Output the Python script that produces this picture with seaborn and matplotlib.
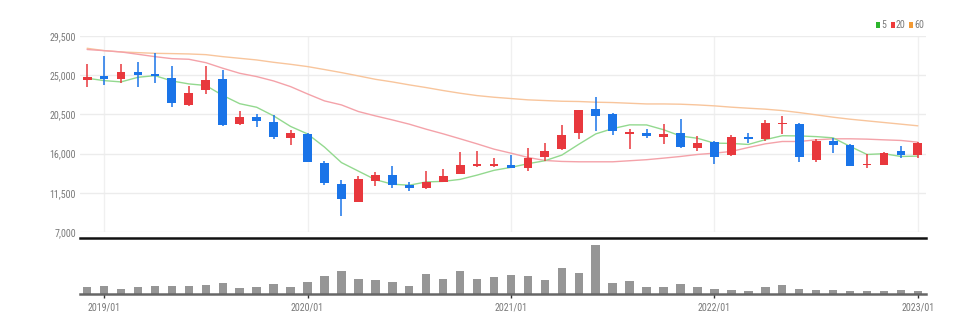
import matplotlib
matplotlib.use("Agg")
import matplotlib.pyplot as plt
from matplotlib import font_manager as fm
from matplotlib.patches import Rectangle
import numpy as np
import seaborn as sns

# Monthly candles, 2018/12 .. 2023/01
opens = [24450, 24950, 24550, 25350, 25100, 24650, 21600, 23300, 24550, 19400,
         20200, 19650, 17750, 18250, 14900, 12550, 10500, 12900, 13600, 12400,
         12000, 12750, 13700, 14550, 14550, 14700, 14350, 15650, 16500, 18350,
         21150, 20550, 18300, 18400, 17900, 18350, 16650, 17300, 15850, 17950,
         17700, 19350, 19450, 15300, 17400, 17000, 14700, 14700, 16300, 15800]
highs = [26250, 27150, 26250, 26550, 27500, 26000, 23750, 26100, 25600, 20850,
         20550, 20450, 18750, 18350, 15200, 13000, 13400, 13900, 14550, 12750,
         14050, 14250, 16150, 16250, 15550, 15850, 16650, 17200, 19300, 21050,
         22550, 20650, 18800, 18850, 19400, 20000, 18050, 17400, 18100, 18350,
         19850, 20350, 19500, 17650, 17750, 17100, 15950, 16150, 16900, 17300]
lows = [23600, 23900, 24100, 23700, 24150, 21300, 21500, 22850, 19200, 19300,
        19100, 17650, 17000, 15000, 12350, 8800, 10400, 12250, 12100, 11700,
        11950, 12700, 13650, 14500, 14500, 14350, 14050, 15100, 16450, 17650,
        18550, 18150, 16500, 17750, 17100, 16650, 16350, 14850, 15750, 17200,
        17400, 18250, 15000, 15000, 16050, 14550, 14400, 14650, 15500, 15500]
closes = [24850, 24600, 25350, 25050, 24900, 21800, 22950, 24450, 19300, 20200,
          19700, 17950, 18400, 15000, 12600, 10800, 13050, 13550, 12400, 12050,
          12750, 13400, 14650, 14850, 14850, 14400, 15500, 16300, 18100, 21000,
          20350, 18550, 18450, 18050, 18300, 16750, 17250, 15650, 17900, 17700,
          19500, 19500, 15600, 17450, 17000, 14600, 14850, 16050, 15850, 17200]

# Moving averages (5, 20, 60 months)
ma5 = [24650, 24380, 24230, 24760, 24950, 24340, 24000, 23820, 22680, 21730,
       21320, 20330, 19120, 18260, 16750, 14970, 13990, 13010, 12490, 12370,
       12750, 12810, 13040, 13530, 14080, 14420, 14840, 15180, 15830, 17070,
       18260, 18870, 19300, 19290, 18740, 18020, 17760, 17200, 17170, 17050,
       17600, 18050, 18030, 17950, 17810, 16830, 15900, 15990, 15670, 15710]
ma20 = [27950, 27820, 27670, 27400, 27130, 26900, 26830, 26440, 25800, 25220,
        24840, 24340, 23690, 22850, 22050, 21590, 20830, 20330, 19870, 19380,
        18800, 18270, 17700, 17120, 16510, 16050, 15560, 15210, 15100, 15060,
        15060, 15060, 15180, 15300, 15480, 15670, 15900, 16050, 16250, 16700,
        17120, 17390, 17390, 17580, 17700, 17700, 17660, 17580, 17510, 17310]
ma60 = [28090, 27820, 27670, 27590, 27510, 27480, 27440, 27360, 27130, 26940,
        26750, 26480, 26250, 25990, 25650, 25300, 24920, 24530, 24230, 23890,
        23580, 23240, 22930, 22660, 22470, 22320, 22170, 22090, 22010, 21980,
        21900, 21860, 21780, 21700, 21700, 21670, 21590, 21480, 21330, 21210,
        21100, 20940, 20710, 20450, 20180, 19950, 19760, 19570, 19380, 19190]

# Monthly volume
volume = [200, 250, 150, 200, 230, 230, 250, 280, 320, 180,
          200, 310, 200, 370, 540, 700, 460, 430, 370, 230,
          610, 460, 680, 460, 520, 560, 550, 430, 770, 630,
          1460, 340, 380, 200, 200, 290, 200, 150, 130, 100,
          220, 270, 150, 130, 130, 100, 100, 100, 130, 100]

tick_pos = [1, 13, 25, 37, 49]
tick_labels = ["2019/01", "2020/01", "2021/01", "2022/01", "2023/01"]
price_ticks = [7000, 11500, 16000, 20500, 25000, 29500]
legend_labels = ["5", "20", "60"]

UP, DOWN = "#e8383d", "#1a74e8"
MA_COLORS = ["#93d98f", "#f4a2a9", "#f8c59c"]
LEGEND_COLORS = ["#2db52d", "#ee3b3b", "#f39a34"]
TEXT = "#7a7a7a"

sns.set_theme(style="white")


def pick_font(cands):
    for c in cands:
        try:
            fm.findfont(fm.FontProperties(family=c), fallback_to_default=False)
            return c
        except Exception:
            pass
    return "DejaVu Sans"


FONT = pick_font(["Liberation Sans Narrow", "DejaVu Sans Condensed",
                  "Roboto Condensed", "Open Sans Condensed", "Roboto"])
plt.rcParams["font.family"] = [FONT, "DejaVu Sans"]
narrow = FONT in ("Liberation Sans Narrow", "DejaVu Sans Condensed",
                  "Roboto Condensed", "Open Sans Condensed")
FS = 7.2 if narrow else 6.0

W, H = 979, 331
fig = plt.figure(figsize=(W / 100, H / 100), dpi=100)
fig.patch.set_facecolor("white")

L, R = 80, 926
ax = fig.add_axes([L / W, 1 - 232 / H, (R - L) / W, (232 - 36) / H])
vax = fig.add_axes([L / W, 1 - 294 / H, (R - L) / W, (294 - 238) / H])

n = len(closes)
x = np.arange(n)
XLIM = (-0.42, 49.48)

# moving averages
for vals, col in zip([ma60, ma20, ma5], MA_COLORS[::-1]):
    sns.lineplot(x=x, y=vals, ax=ax, color=col, lw=1.0, zorder=2)

# candles
for i in range(n):
    o, h, lo, c = opens[i], highs[i], lows[i], closes[i]
    col = UP if c >= o else DOWN
    ax.vlines(i, lo, h, color=col, lw=1.1, zorder=3)
    body = max(abs(c - o), 90)
    bottom = min(o, c) if abs(c - o) >= 90 else (o + c) / 2 - 45
    ax.bar(i, body, bottom=bottom, width=0.52, color=col, lw=0, zorder=4)

ax.set_xlim(*XLIM)
ax.set_ylim(7000, 29500)
ax.set_yticks(price_ticks)
ax.set_yticklabels([f"{v:,}" for v in price_ticks])
ax.set_xticks(tick_pos)
ax.set_xticklabels([])
ax.tick_params(axis="both", length=0, labelsize=FS, labelcolor=TEXT, pad=3)
ax.grid(True, axis="y", color="#ececec", lw=1)
ax.grid(True, axis="x", color="#f0f0f0", lw=1)
for s in ax.spines.values():
    s.set_visible(False)
ax.set_xlabel("")
ax.set_ylabel("")
ax.set_facecolor("none")

# volume panel
sns.barplot(x=x, y=volume, ax=vax, color="#969696", width=0.5,
            native_scale=True, saturation=1, lw=0)
vax.set_xlim(*XLIM)
vax.set_ylim(0, 1680)
vax.set_yticks([])
vax.set_xticks(tick_pos)
vax.set_xticklabels(tick_labels)
vax.tick_params(axis="x", length=3, width=1, color="#333333",
                labelsize=FS, labelcolor=TEXT, pad=3, direction="out",
                bottom=True)
vax.set_xlabel("")
vax.set_ylabel("")
for side in ("left", "right"):
    vax.spines[side].set_visible(False)
vax.spines["top"].set_color("#111111")
vax.spines["top"].set_linewidth(1.8)
vax.spines["bottom"].set_color("#666666")
vax.spines["bottom"].set_linewidth(1.8)
vax.set_facecolor("none")

# legend in the top right corner
lx = [876, 891, 909]
tx = [881, 896, 914]
for lab, col, px, pt in zip(legend_labels, LEGEND_COLORS, lx, tx):
    fig.add_artist(Rectangle((px / W, 1 - 28 / H), 4 / W, 6 / H,
                             transform=fig.transFigure, color=col, lw=0))
    fig.text(pt / W, 1 - 25 / H, lab, fontsize=FS, color=TEXT,
             ha="left", va="center")

fig.savefig("out.png", dpi=100, facecolor="white")
